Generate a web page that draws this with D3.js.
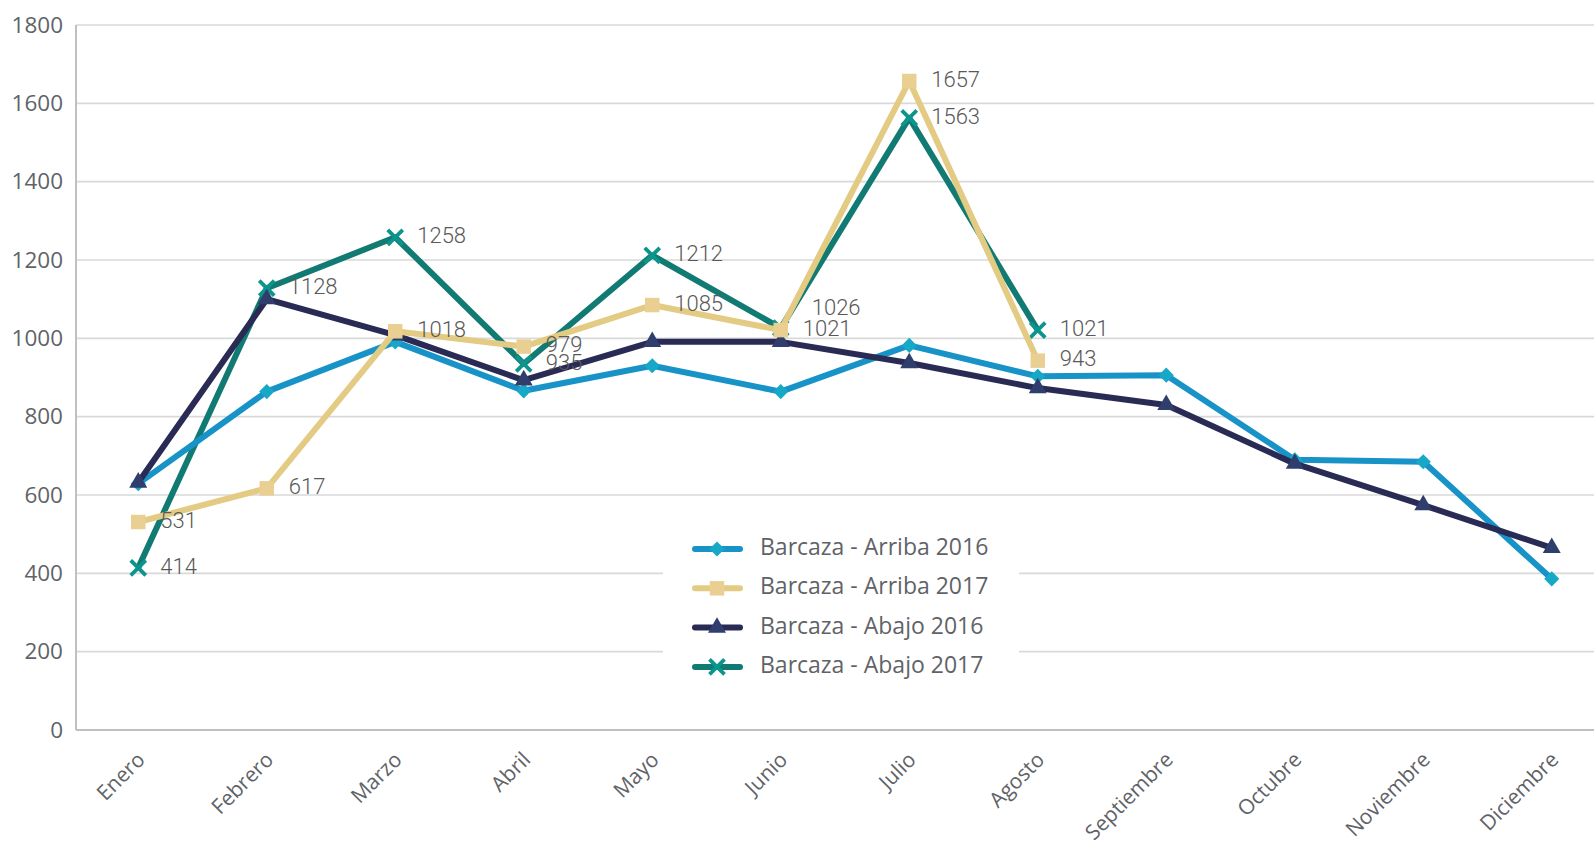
<!DOCTYPE html>
<html>
<head>
<meta charset="utf-8">
<script src="https://cdn.jsdelivr.net/npm/d3@7"></script>
<style>
  body { margin: 0; background: #fff; }
  svg { display: block; }
</style>
</head>
<body>
<div id="svgRoot"></div>
<script>
// categories
const months = ["Enero", "Febrero", "Marzo", "Abril", "Mayo", "Junio", "Julio",
  "Agosto", "Septiembre", "Octubre", "Noviembre", "Diciembre"];

// series values
const arriba2016 = [629, 864, 991, 866, 930, 864, 982, 903, 906, 690, 685, 386];
const arriba2017 = [531, 617, 1018, 979, 1085, 1021, 1657, 943];
const abajo2016 = [632, 1100, 1008, 893, 991, 991, 937, 873, 830, 680, 574, 465];
const abajo2017 = [414, 1128, 1258, 935, 1212, 1026, 1563, 1021];

const yTicks = [0, 200, 400, 600, 800, 1000, 1200, 1400, 1600, 1800];

const series = [
  { name: "Barcaza - Arriba 2016", values: arriba2016, line: "#1793c8", mark: "#16a8c6", shape: "diamond", labels: false },
  { name: "Barcaza - Arriba 2017", values: arriba2017, line: "#e4cb84", mark: "#e9d092", shape: "square", labels: true },
  { name: "Barcaza - Abajo 2016", values: abajo2016, line: "#2a2b54", mark: "#2f3e6c", shape: "triangle", labels: false },
  { name: "Barcaza - Abajo 2017", values: abajo2017, line: "#117b73", mark: "#0b958c", shape: "x", labels: true }
];
// order the lines are painted in (bottom first)
const drawOrder = [3, 0, 2, 1];

const W = 1594, H = 843;
const plotLeft = 76, plotTop = 25, plotBottom = 730;

const svg = d3.select("#svgRoot").append("svg")
  .attr("width", W).attr("height", H);

const x = d3.scaleBand().domain(months).range([74, 74 + 12 * 128.5]).padding(0);
const y = d3.scaleLinear().domain([0, 1800]).range([plotBottom, plotTop]);
const cx = m => x(m) + x.bandwidth() / 2;

// gridlines
svg.append("g")
  .selectAll("line")
  .data(yTicks.filter(d => d > 0))
  .enter().append("line")
  .attr("x1", plotLeft).attr("x2", W)
  .attr("y1", d => y(d)).attr("y2", d => y(d))
  .attr("stroke", "#d9d9d9").attr("stroke-width", 1.6);

// y axis labels
const yAxis = svg.append("g")
  .attr("transform", "translate(" + plotLeft + ",0)")
  .call(d3.axisLeft(y).tickValues(yTicks).tickFormat(d3.format("d")).tickSize(0).tickPadding(13));
yAxis.select(".domain").remove();
yAxis.selectAll("text")
  .attr("font-family", "'Open Sans', sans-serif")
  .attr("font-size", 22.5)
  .attr("fill", "#5f6368");

// axis lines
svg.append("line")
  .attr("x1", plotLeft).attr("x2", plotLeft).attr("y1", plotTop).attr("y2", plotBottom)
  .attr("stroke", "#bfbfc4").attr("stroke-width", 2);
svg.append("line")
  .attr("x1", plotLeft).attr("x2", W).attr("y1", plotBottom).attr("y2", plotBottom)
  .attr("stroke", "#bfbfc4").attr("stroke-width", 2);

// month labels
svg.append("g")
  .selectAll("text")
  .data(months)
  .enter().append("text")
  .attr("transform", d => "translate(" + (cx(d) + 8) + "," + (plotBottom + 31) + ") rotate(-45)")
  .attr("text-anchor", "end")
  .attr("font-family", "'Open Sans', sans-serif")
  .attr("font-size", 21)
  .attr("fill", "#5f6368")
  .text(d => d);

function markerPath(shape) {
  if (shape === "diamond") return d3.symbol(d3.symbolSquare, 115)();
  if (shape === "square") return d3.symbol(d3.symbolSquare, 210)();
  if (shape === "triangle") return d3.symbol(d3.symbolTriangle, 140)();
  return "M-7.5,-7.5L7.5,7.5M-7.5,7.5L7.5,-7.5";
}

function drawMarker(g, s, px, py) {
  const p = g.append("path")
    .attr("d", markerPath(s.shape))
    .attr("transform", "translate(" + px + "," + py + ")" + (s.shape === "diamond" ? " rotate(45)" : ""));
  if (s.shape === "x") {
    p.attr("fill", "none").attr("stroke", s.mark).attr("stroke-width", 3.8);
  } else {
    p.attr("fill", s.mark);
  }
}

const line = d3.line()
  .x((d, i) => cx(months[i]))
  .y(d => y(d));

drawOrder.forEach(k => {
  const s = series[k];
  const g = svg.append("g");
  g.append("path")
    .attr("d", line(s.values))
    .attr("fill", "none")
    .attr("stroke", s.line)
    .attr("stroke-width", 6)
    .attr("stroke-linejoin", "round");
  s.values.forEach((v, i) => drawMarker(g, s, cx(months[i]), y(v)));
});

// data labels (2017 series only)
const nudge = { "3-5": [9, -19] };
series.forEach((s, k) => {
  if (!s.labels) return;
  s.values.forEach((v, i) => {
    const n = nudge[k + "-" + i] || [0, 0];
    svg.append("text")
      .attr("x", cx(months[i]) + 22 + n[0])
      .attr("y", y(v) + n[1])
      .attr("dominant-baseline", "middle")
      .attr("font-family", "Roboto, sans-serif")
      .attr("font-weight", 300)
      .attr("font-size", 22)
      .attr("fill", "#595959")
      .text(v);
  });
});

// legend
const legend = svg.append("g");
legend.append("rect")
  .attr("x", 663).attr("y", 525).attr("width", 356).attr("height", 165)
  .attr("fill", "#fff");
series.forEach((s, i) => {
  const ly = 549 + i * 39.3;
  legend.append("line")
    .attr("x1", 695).attr("x2", 740).attr("y1", ly).attr("y2", ly)
    .attr("stroke", s.line).attr("stroke-width", 6).attr("stroke-linecap", "round");
  drawMarker(legend, s, 717, ly);
  legend.append("text")
    .attr("x", 760).attr("y", ly)
    .attr("dominant-baseline", "middle")
    .attr("font-family", "'Open Sans', sans-serif")
    .attr("font-size", 23)
    .attr("fill", "#5f6368")
    .text(s.name);
});
</script>
</body>
</html>
